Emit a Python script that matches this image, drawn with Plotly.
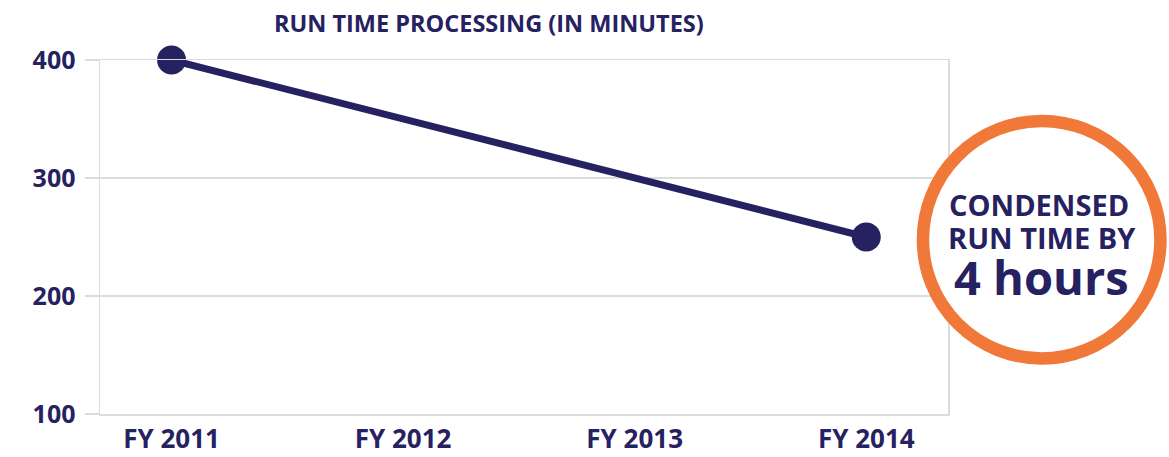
import plotly.graph_objects as go

categories = ["FY 2011", "FY 2012", "FY 2013", "FY 2014"]
run_minutes = [400, None, None, 250]
y_ticks = [100, 200, 300, 400]

title_text = "RUN TIME PROCESSING (IN MINUTES)"
callout_lines = ["CONDENSED", "RUN TIME BY", "4 hours"]

NAVY = "#262161"
ORANGE = "#F07838"
GRID = "#dcdcdc"

fig = go.Figure()
fig.add_trace(go.Scatter(
    x=categories, y=run_minutes, mode="lines+markers", connectgaps=True,
    line=dict(color=NAVY, width=7),
    marker=dict(color=NAVY, size=29),
    cliponaxis=False, hoverinfo="skip", showlegend=False,
))

W, H = 1169, 457
L, R, T, B = 100, 221, 60, 43
pw, ph = W - L - R, H - T - B

def px(x):
    return (x - L) / pw

def py(y):
    return (H - B - y) / ph

fig.update_layout(
    width=W, height=H,
    margin=dict(l=L, r=R, t=T, b=B, pad=0, autoexpand=False),
    paper_bgcolor="white", plot_bgcolor="white",
    font=dict(family="Open Sans", color=NAVY),
    xaxis=dict(
        type="category", categoryorder="array", categoryarray=categories,
        range=[-0.309, 3.353], showgrid=False, zeroline=False, automargin=False,
        showline=True, linecolor=GRID, linewidth=1.5, mirror=True,
        ticks="", tickfont=dict(family="Open Sans", size=26, color=NAVY, weight=700),
        ticklabelstandoff=1,
    ),
    yaxis=dict(
        range=[100, 400], tickvals=y_ticks, showgrid=True, gridcolor=GRID, gridwidth=1.5,
        zeroline=False, showline=True, linecolor=GRID, linewidth=1.5, mirror=True,
        ticks="outside", ticklen=14, tickcolor=GRID, tickwidth=1.5, automargin=False,
        tickfont=dict(family="Open Sans", size=25, color=NAVY, weight=700),
        ticklabelstandoff=4,
    ),
)

fig.add_annotation(
    xref="paper", yref="paper", x=px(488.5), y=py(23.5), xanchor="center", yanchor="middle",
    text=title_text, showarrow=False,
    font=dict(family="Open Sans", size=23.5, color=NAVY, weight=700),
)

# callout circle
cx, cy, r = 1041.7, 239.7, 118.75
fig.add_shape(
    type="circle", xref="paper", yref="paper", layer="above",
    x0=px(cx - r), x1=px(cx + r), y0=py(cy + r), y1=py(cy - r),
    line=dict(color=ORANGE, width=12.5), fillcolor="white",
)

sizes = [29, 29, 47]
centers = [(1038.8, 204.2), (1041.7, 238.0), (1041.2, 276.7)]
for txt, s, (x, y) in zip(callout_lines, sizes, centers):
    fig.add_annotation(
        xref="paper", yref="paper", x=px(x), y=py(y), xanchor="center", yanchor="middle",
        text=txt, showarrow=False,
        font=dict(family="Open Sans", size=s, color=NAVY, weight=700),
    )

fig.write_html(
    "out.html",
    config={"displayModeBar": False, "staticPlot": True},
    post_script="document.body.style.margin='0';document.body.style.overflow='hidden';",
)
